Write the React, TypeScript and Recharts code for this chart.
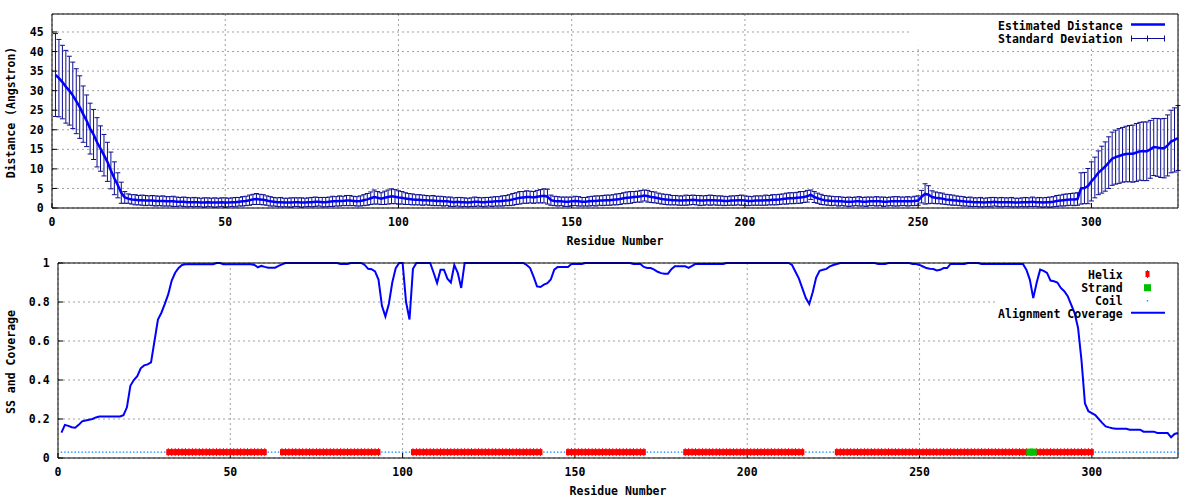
import React from "react";
import {
  ComposedChart,
  Line,
  Scatter,
  XAxis,
  YAxis,
  CartesianGrid,
  ErrorBar,
  Legend,
  ReferenceArea,
  Label,
} from "recharts";

// Residue numbering starts at 1
const firstResidue = 1;

// Estimated distance (Angstrom) per residue
const distance = [
  34.0, 33.2, 32.2, 31.0, 30.0, 28.8, 27.3, 25.8, 24.0, 22.3,
  20.3, 18.8, 16.8, 15.2, 13.5, 11.8, 9.6, 7.6, 5.8, 3.9,
  2.7, 2.4, 2.2, 2.1, 2.0, 2.0, 1.9, 1.9, 1.9, 1.8,
  1.8, 1.8, 1.7, 1.7, 1.7, 1.6, 1.6, 1.6, 1.5, 1.5,
  1.5, 1.5, 1.4, 1.4, 1.5, 1.4, 1.4, 1.4, 1.5, 1.4,
  1.4, 1.5, 1.5, 1.6, 1.7, 1.8, 2.0, 2.2, 2.3, 2.2,
  2.1, 1.9, 1.7, 1.6, 1.5, 1.5, 1.4, 1.4, 1.4, 1.5,
  1.5, 1.4, 1.4, 1.5, 1.5, 1.6, 1.6, 1.5, 1.5, 1.6,
  1.7, 1.7, 1.8, 1.8, 1.9, 1.9, 1.8, 1.7, 1.8, 2.0,
  2.2, 2.5, 2.8, 2.6, 2.4, 2.6, 2.8, 3.0, 2.9, 2.7,
  2.6, 2.4, 2.3, 2.2, 2.1, 2.1, 2.0, 2.0, 1.9, 1.9,
  1.8, 1.8, 1.7, 1.7, 1.6, 1.5, 1.6, 1.5, 1.5, 1.4,
  1.5, 1.6, 1.6, 1.5, 1.5, 1.6, 1.6, 1.7, 1.7, 1.8,
  1.9, 2.0, 2.2, 2.4, 2.6, 2.7, 2.8, 2.8, 2.7, 2.9,
  3.0, 3.1, 2.9, 2.0, 1.8, 1.7, 1.7, 1.6, 1.6, 1.7,
  1.8, 1.7, 1.6, 1.6, 1.7, 1.8, 1.8, 1.9, 1.9, 2.0,
  2.0, 2.1, 2.2, 2.3, 2.5, 2.6, 2.7, 2.8, 2.9, 3.0,
  3.2, 3.0, 2.8, 2.7, 2.5, 2.3, 2.2, 2.1, 2.0, 2.0,
  1.9, 1.9, 2.0, 2.0, 2.1, 2.0, 1.9, 1.9, 2.0, 2.0,
  2.0, 1.9, 1.9, 1.8, 1.8, 1.9, 1.9, 2.0, 2.0, 1.9,
  1.8, 1.8, 1.9, 1.9, 1.9, 2.0, 2.0, 2.1, 2.1, 2.2,
  2.3, 2.4, 2.5, 2.5, 2.6, 2.7, 2.8, 3.0, 3.4, 2.8,
  2.5, 2.2, 2.0, 1.9, 1.8, 1.8, 1.7, 1.7, 1.6, 1.6,
  1.6, 1.7, 1.7, 1.6, 1.6, 1.7, 1.7, 1.7, 1.7, 1.6,
  1.6, 1.7, 1.7, 1.7, 1.7, 1.7, 1.7, 1.7, 1.8, 1.9,
  2.9, 3.6, 3.4, 2.8, 2.6, 2.5, 2.4, 2.2, 2.1, 2.0,
  1.9, 1.8, 1.7, 1.6, 1.6, 1.5, 1.5, 1.5, 1.4, 1.5,
  1.5, 1.6, 1.5, 1.5, 1.5, 1.5, 1.5, 1.4, 1.4, 1.5,
  1.5, 1.5, 1.6, 1.5, 1.5, 1.4, 1.5, 1.5, 1.6, 1.8,
  1.9, 2.0, 2.1, 2.2, 2.2, 2.3, 5.0, 5.1, 5.6, 6.8,
  7.8, 9.0, 9.8, 10.6, 11.6, 12.6, 13.0, 13.3, 13.6, 13.8,
  13.9, 13.9, 14.2, 14.5, 14.5, 14.5, 15.0, 15.6, 15.5, 15.3,
  15.3, 16.0, 17.0, 17.4, 17.9,
];

// Standard deviation per residue
const stdDev = [
  10.6, 9.9, 9.4, 9.3, 8.8, 8.5, 8.3, 8.0, 7.2, 6.6,
  6.5, 6.4, 6.3, 5.8, 5.3, 5.0, 4.7, 4.2, 3.2, 2.7,
  1.5, 1.2, 1.2, 1.3, 1.2, 1.3, 1.3, 1.2, 1.3, 1.3,
  1.2, 1.3, 1.2, 1.2, 1.3, 1.2, 1.1, 1.2, 1.2, 1.1,
  1.2, 1.1, 1.1, 1.2, 1.1, 1.1, 1.2, 1.1, 1.1, 1.2,
  1.1, 1.1, 1.2, 1.1, 1.2, 1.2, 1.3, 1.3, 1.4, 1.3,
  1.3, 1.2, 1.2, 1.1, 1.1, 1.2, 1.1, 1.1, 1.2, 1.1,
  1.1, 1.2, 1.1, 1.1, 1.2, 1.2, 1.1, 1.2, 1.2, 1.2,
  1.3, 1.2, 1.3, 1.2, 1.3, 1.3, 1.2, 1.2, 1.3, 1.4,
  1.5, 1.6, 1.8, 1.6, 1.5, 1.7, 1.8, 1.9, 1.8, 1.7,
  1.6, 1.5, 1.4, 1.4, 1.3, 1.3, 1.3, 1.2, 1.2, 1.3,
  1.2, 1.2, 1.2, 1.1, 1.2, 1.1, 1.1, 1.2, 1.1, 1.1,
  1.1, 1.2, 1.1, 1.1, 1.2, 1.1, 1.2, 1.2, 1.2, 1.3,
  1.3, 1.4, 1.5, 1.5, 1.6, 1.5, 1.6, 1.5, 1.5, 1.6,
  1.7, 1.8, 1.9, 1.3, 1.2, 1.2, 1.1, 1.2, 1.2, 1.1,
  1.2, 1.2, 1.1, 1.1, 1.2, 1.2, 1.3, 1.2, 1.3, 1.3,
  1.3, 1.3, 1.4, 1.4, 1.4, 1.5, 1.5, 1.4, 1.4, 1.5,
  1.4, 1.5, 1.4, 1.4, 1.3, 1.3, 1.3, 1.3, 1.2, 1.2,
  1.2, 1.2, 1.3, 1.2, 1.2, 1.2, 1.3, 1.2, 1.2, 1.3,
  1.2, 1.2, 1.2, 1.2, 1.1, 1.2, 1.2, 1.2, 1.3, 1.2,
  1.2, 1.1, 1.2, 1.2, 1.2, 1.3, 1.2, 1.3, 1.3, 1.3,
  1.3, 1.4, 1.4, 1.4, 1.4, 1.5, 1.4, 1.5, 1.2, 1.4,
  1.3, 1.3, 1.2, 1.2, 1.2, 1.1, 1.2, 1.1, 1.1, 1.2,
  1.1, 1.1, 1.2, 1.1, 1.2, 1.1, 1.1, 1.2, 1.1, 1.2,
  1.1, 1.1, 1.2, 1.2, 1.1, 1.1, 1.2, 1.1, 1.2, 1.2,
  1.6, 2.6, 2.3, 1.6, 1.5, 1.4, 1.4, 1.3, 1.3, 1.3,
  1.2, 1.2, 1.2, 1.1, 1.2, 1.1, 1.1, 1.2, 1.1, 1.1,
  1.2, 1.1, 1.1, 1.2, 1.1, 1.1, 1.2, 1.1, 1.1, 1.1,
  1.2, 1.1, 1.2, 1.1, 1.2, 1.2, 1.2, 1.3, 1.3, 1.4,
  1.4, 1.5, 1.5, 1.5, 1.6, 1.6, 4.0, 4.0, 4.5, 5.0,
  5.2, 5.6, 6.0, 6.3, 6.6, 6.8, 6.9, 7.0, 7.0, 7.1,
  7.2, 7.3, 7.4, 7.4, 7.5, 7.5, 7.4, 7.3, 7.4, 7.5,
  7.6, 7.8, 8.0, 8.2, 8.3,
];

// Alignment coverage per residue
const coverage = [
  0.13, 0.17, 0.165, 0.158, 0.155, 0.17, 0.188, 0.192, 0.196, 0.2,
  0.208, 0.213, 0.213, 0.213, 0.213, 0.213, 0.213, 0.213, 0.22, 0.26,
  0.37, 0.4, 0.42, 0.46, 0.475, 0.48, 0.49, 0.6, 0.71, 0.745,
  0.79, 0.84, 0.91, 0.95, 0.975, 0.99, 0.993, 0.993, 0.993, 0.993,
  0.993, 0.993, 0.993, 0.993, 0.993, 1, 1, 0.993, 0.993, 0.993,
  0.993, 0.993, 0.993, 0.993, 0.993, 0.993, 0.99, 0.978, 0.985, 0.98,
  0.976, 0.976, 0.976, 0.985, 0.993, 1, 1, 1, 1, 1,
  1, 1, 1, 1, 1, 1, 1, 1, 1, 1,
  1, 0.995, 0.995, 0.995, 1, 1, 1, 1, 0.99, 0.97,
  0.968, 0.957, 0.915, 0.78, 0.726, 0.79, 0.9, 0.974, 1, 1,
  0.8, 0.71, 0.97, 1, 1, 1, 1, 1, 0.95, 0.897,
  0.966, 0.966, 0.92, 0.9, 0.99, 0.95, 0.872, 1, 1, 1,
  1, 1, 1, 1, 1, 1, 1, 1, 1, 1,
  1, 1, 1, 1, 1, 0.99, 0.974, 0.93, 0.88, 0.877,
  0.889, 0.897, 0.915, 0.966, 0.98, 0.98, 0.98, 0.98, 0.995, 0.995,
  0.995, 0.995, 1, 1, 1, 1, 1, 1, 1, 1,
  1, 1, 1, 1, 1, 1, 0.995, 0.995, 0.995, 0.98,
  0.974, 0.974, 0.966, 0.955, 0.948, 0.945, 0.945, 0.968, 0.983, 0.983,
  0.983, 0.983, 0.975, 0.985, 0.995, 0.995, 0.995, 0.995, 0.995, 0.995,
  0.995, 0.995, 0.995, 1, 1, 1, 1, 1, 1, 1,
  1, 1, 1, 1, 1, 1, 1, 1, 1, 1,
  1, 1, 0.99, 0.955, 0.92, 0.87, 0.82, 0.79, 0.85, 0.925,
  0.96, 0.965, 0.97, 0.983, 0.99, 0.995, 1, 1, 1, 1,
  1, 1, 1, 1, 1, 1, 1, 0.995, 0.995, 0.995,
  1, 1, 1, 1, 1, 1, 1, 0.995, 0.995, 0.99,
  0.982, 0.974, 0.97, 0.969, 0.962, 0.965, 0.974, 0.974, 0.995, 0.995,
  0.995, 0.995, 0.995, 1, 1, 1, 1, 0.995, 0.995, 0.995,
  0.995, 0.995, 0.995, 0.995, 0.995, 0.995, 0.995, 0.995, 0.995, 0.995,
  0.966, 0.915, 0.82, 0.9, 0.966, 0.96, 0.949, 0.91, 0.906, 0.9,
  0.872, 0.855, 0.83, 0.786, 0.743, 0.667, 0.5, 0.28, 0.24, 0.23,
  0.22, 0.2, 0.18, 0.162, 0.157, 0.153, 0.15, 0.15, 0.15, 0.15,
  0.145, 0.145, 0.145, 0.145, 0.135, 0.135, 0.135, 0.135, 0.128, 0.128,
  0.128, 0.128, 0.106, 0.123, 0.128,
];

// Secondary structure per residue (H helix, E strand, C coil), 10 per chunk
const ssCodes = [
  "CCCCCCCCCC", "CCCCCCCCCC", "CCCCCCCCCC", "CHHHHHHHHH", "HHHHHHHHHH",
  "HHHHHHHHHH", "CCCCHHHHHH", "HHHHHHHHHH", "HHHHHHHHHH", "HHHCCCCCCC",
  "CCHHHHHHHH", "HHHHHHHHHH", "HHHHHHHHHH", "HHHHHHHHHH", "CCCCCCCHHH",
  "HHHHHHHHHH", "HHHHHHHHHH", "CCCCCCCCCC", "CHHHHHHHHH", "HHHHHHHHHH",
  "HHHHHHHHHH", "HHHHHHCCCC", "CCCCCHHHHH", "HHHHHHHHHH", "HHHHHHHHHH",
  "HHHHHHHHHH", "HHHHHHHHHH", "HHHHHHHHHH", "HEEHHHHHHH", "HHHHHHHHHH",
  "CCCCCCCCCC", "CCCCCCCCCC", "CCCCC",
].join("");
const ssLevel = 0.03;

const residueTicks = [0, 50, 100, 150, 200, 250, 300];
const distanceTicks = [0, 5, 10, 15, 20, 25, 30, 35, 40, 45];
const coverageTicks = [0, 0.2, 0.4, 0.6, 0.8, 1];

const distRows = distance.map((d, i) => ({ res: firstResidue + i, dist: d, sd: stdDev[i] }));
const covRows = coverage.map((c, i) => ({ res: firstResidue + i, cov: c }));
const ssPoints = (code: string) =>
  ssCodes
    .split("")
    .map((c, i) => (c === code ? { res: firstResidue + i, y: ssLevel } : null))
    .filter(Boolean) as { res: number; y: number }[];

const FONT = '"DejaVu Sans Mono", "Liberation Mono", monospace';
const textStyle = { fontSize: 11.5, fontFamily: FONT, fontWeight: 700, fill: "#000" };

const BLUE = "#0000ff";
const NAVY = "#0d0d8f";
const RED = "#ff0000";
const GREEN = "#00c000";
const COIL = "#1e90ff";

const HelixMark = (p: any) => (
  <g>
    <rect x={p.cx - 2} y={p.cy - 3} width={4} height={6} fill={RED} />
    <line x1={p.cx} x2={p.cx} y1={p.cy - 4} y2={p.cy + 4} stroke={RED} strokeWidth={1} />
  </g>
);
const StrandMark = (p: any) => <rect x={p.cx - 3.5} y={p.cy - 3.5} width={7} height={7} fill={GREEN} />;
const CoilMark = (p: any) => <rect x={p.cx - 0.7} y={p.cy - 0.7} width={1.4} height={1.4} fill={COIL} />;

const xTitle = (props: any) => {
  const vb = props.viewBox;
  return (
    <text x={vb.x + vb.width / 2} y={vb.y + vb.height - 9} textAnchor="middle" dominantBaseline="central" style={textStyle}>
      Residue Number
    </text>
  );
};

const yTitle = (text: string) => (props: any) => {
  const vb = props.viewBox;
  const cy = vb.y + vb.height / 2 + 1.5;
  return (
    <text x={10.5} y={cy} textAnchor="middle" dominantBaseline="central" transform={`rotate(-90, 10.5, ${cy})`} style={textStyle}>
      {text}
    </text>
  );
};

function DistanceKey() {
  return (
    <svg width={240} height={34} style={{ display: "block" }}>
      <text x={182.7} y={12} textAnchor="end" dominantBaseline="central" style={textStyle}>Estimated Distance</text>
      <line x1={191} x2={225} y1={10.5} y2={10.5} stroke={BLUE} strokeWidth={2.5} />
      <text x={182.7} y={25} textAnchor="end" dominantBaseline="central" style={textStyle}>Standard Deviation</text>
      <line x1={191} x2={225} y1={24.5} y2={24.5} stroke={NAVY} strokeWidth={1} />
      <line x1={191.5} x2={191.5} y1={21.5} y2={27.5} stroke={NAVY} strokeWidth={1} />
      <line x1={207.5} x2={207.5} y1={21.5} y2={27.5} stroke={NAVY} strokeWidth={1} />
      <line x1={224.5} x2={224.5} y1={21.5} y2={27.5} stroke={NAVY} strokeWidth={1} />
    </svg>
  );
}

function CoverageKey() {
  return (
    <svg width={240} height={60} style={{ display: "block" }}>
      <text x={182.7} y={12} textAnchor="end" dominantBaseline="central" style={textStyle}>Helix</text>
      <HelixMark cx={207.5} cy={11} />
      <text x={182.7} y={25} textAnchor="end" dominantBaseline="central" style={textStyle}>Strand</text>
      <StrandMark cx={207.5} cy={24.7} />
      <text x={182.7} y={38} textAnchor="end" dominantBaseline="central" style={textStyle}>Coil</text>
      <CoilMark cx={207.5} cy={37.7} />
      <text x={182.7} y={51} textAnchor="end" dominantBaseline="central" style={textStyle}>Alignment Coverage</text>
      <line x1={191} x2={225} y1={49.7} y2={49.7} stroke={BLUE} strokeWidth={2} />
    </svg>
  );
}

export default function App() {
  return (
    <div style={{ position: "absolute", left: 0, top: 0, width: 1200, height: 500, background: "#fff" }}>
      <ComposedChart width={1200} height={250} data={distRows} margin={{ top: 0, right: 0, bottom: 0, left: 0 }}>
        <CartesianGrid stroke="#a0a0a0" strokeDasharray="2 3" />
        <ReferenceArea x1={248} x2={325} y1={41.5} y2={49.6} fill="#fff" fillOpacity={1} stroke="none" />
        <XAxis type="number" dataKey="res" domain={[0, 325]} ticks={residueTicks} interval={0} height={42}
          tickSize={-5} tickMargin={15} stroke="#000" tick={textStyle}>
          <Label content={xTitle} />
        </XAxis>
        <XAxis xAxisId="top" orientation="top" type="number" dataKey="res" domain={[0, 325]} ticks={residueTicks}
          interval={0} height={14} tickSize={-5} tick={false} stroke="#000" />
        <YAxis type="number" domain={[0, 49.6]} ticks={distanceTicks} interval={0} width={52}
          tickSize={-5} tickMargin={13.4} stroke="#000" tick={textStyle}>
          <Label content={yTitle("Distance (Angstron)")} />
        </YAxis>
        <YAxis yAxisId="right" orientation="right" type="number" domain={[0, 49.6]} ticks={distanceTicks}
          interval={0} width={22} tickSize={-5} tick={false} stroke="#000" />
        <Line dataKey="dist" stroke="none" dot={false} activeDot={false} isAnimationActive={false} legendType="none">
          <ErrorBar dataKey="sd" width={2.5} stroke={NAVY} strokeWidth={1} direction="y" isAnimationActive={false} />
        </Line>
        <Line dataKey="dist" stroke={BLUE} strokeWidth={2.5} dot={false} activeDot={false} isAnimationActive={false} />
        <Legend layout="vertical" align="center" verticalAlign="middle"
          wrapperStyle={{ left: 940, top: 14, width: 240, height: 34 }} content={() => <DistanceKey />} />
      </ComposedChart>

      <ComposedChart width={1200} height={250} data={covRows} margin={{ top: 0, right: 0, bottom: 0, left: 0 }}>
        <CartesianGrid stroke="#a0a0a0" strokeDasharray="2 3" />
        <ReferenceArea x1={272.3} x2={325} y1={0.7} y2={1} fill="#fff" fillOpacity={1} stroke="none" />
        <XAxis type="number" dataKey="res" domain={[0, 325]} ticks={residueTicks} interval={0} height={42}
          tickSize={-5} tickMargin={15} stroke="#000" tick={textStyle}>
          <Label content={xTitle} />
        </XAxis>
        <XAxis xAxisId="top" orientation="top" type="number" dataKey="res" domain={[0, 325]} ticks={residueTicks}
          interval={0} height={13} tickSize={-5} tick={false} stroke="#000" />
        <YAxis type="number" domain={[0, 1]} ticks={coverageTicks} interval={0} width={58}
          tickSize={-5} tickMargin={13.4} stroke="#000" tick={textStyle}>
          <Label content={yTitle("SS and Coverage")} />
        </YAxis>
        <YAxis yAxisId="right" orientation="right" type="number" domain={[0, 1]} ticks={coverageTicks}
          interval={0} width={22} tickSize={-5} tick={false} stroke="#000" />
        <Scatter name="Helix" data={ssPoints("H")} dataKey="y" shape={HelixMark} isAnimationActive={false} />
        <Scatter name="Strand" data={ssPoints("E")} dataKey="y" shape={StrandMark} isAnimationActive={false} />
        <Scatter name="Coil" data={ssPoints("C")} dataKey="y" shape={CoilMark} isAnimationActive={false} />
        <Line dataKey="cov" stroke={BLUE} strokeWidth={2} dot={false} activeDot={false} isAnimationActive={false} />
        <Legend layout="vertical" align="center" verticalAlign="middle"
          wrapperStyle={{ left: 940, top: 13, width: 240, height: 60 }} content={() => <CoverageKey />} />
      </ComposedChart>
    </div>
  );
}
